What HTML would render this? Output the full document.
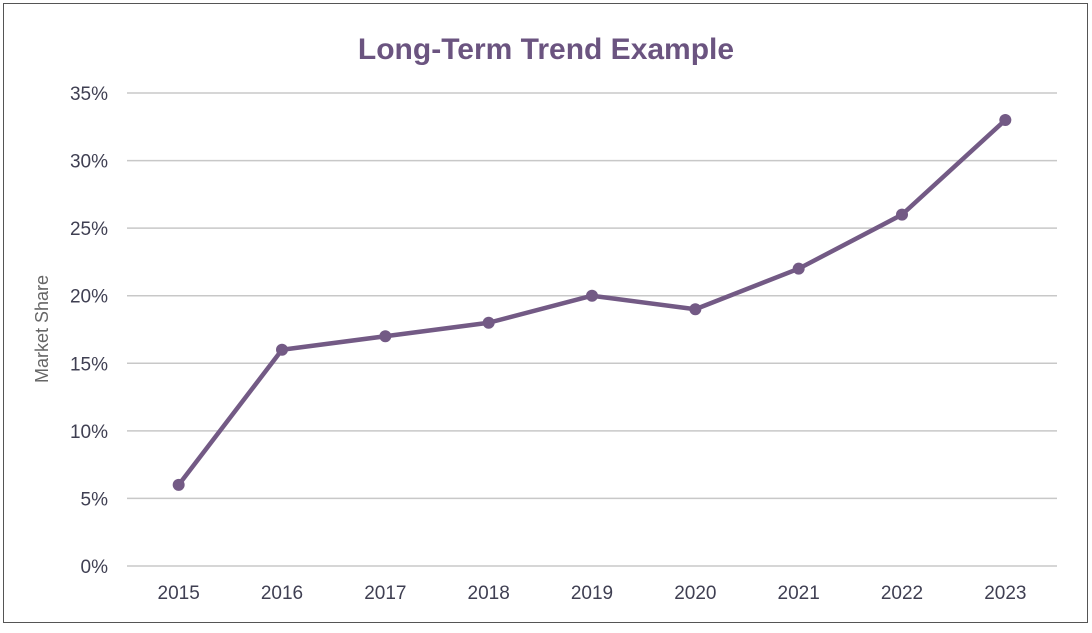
<!DOCTYPE html>
<html><head><meta charset="utf-8"><style>
html,body{margin:0;padding:0;background:#fff;}
body{width:1092px;height:628px;overflow:hidden;font-family:"Liberation Sans",sans-serif;}
</style></head><body>
<svg id="chart" width="1092" height="628" xmlns="http://www.w3.org/2000/svg">
<rect x="3.5" y="3.5" width="1084" height="619" fill="#fff" stroke="#555" stroke-width="1"/>
<text x="546" y="59" text-anchor="middle" font-size="30" font-weight="bold" fill="#6b5480">Long-Term Trend Example</text>
<text transform="translate(48,329) rotate(-90)" text-anchor="middle" font-size="18" fill="#666">Market Share</text>
<g id="grid"></g><g id="xlabels"></g><g id="series"></g>
</svg>
<script>
const categories=["2015","2016","2017","2018","2019","2020","2021","2022","2023"];
const shareValues=[6,16,17,18,20,19,22,26,33];
const yTicks=[0,5,10,15,20,25,30,35];
const ns="http://www.w3.org/2000/svg";
const x0=127,x1=1057,yTop=93,yBot=566,yMax=35;
const band=(x1-x0)/categories.length;
function xs(i){return x0+band*(i+0.5);}
function ys(v){return yBot-(v/yMax)*(yBot-yTop);}
function mk(t,a,p){const e=document.createElementNS(ns,t);for(const k in a)e.setAttribute(k,a[k]);p.appendChild(e);return e;}
const grid=document.getElementById('grid');
yTicks.forEach(v=>{
 const l=mk('line',{x1:x0,x2:x1,y1:ys(v),y2:ys(v),stroke:'#c8c8c8','stroke-width':1.5},grid);
 
 
 const t=mk('text',{x:108,y:ys(v)+7,'text-anchor':'end','font-size':19,fill:'#3f3f52'},grid);
 t.textContent=v+'%';
 
 
});
const xl=document.getElementById('xlabels');
categories.forEach((c,i)=>{
 const t=mk('text',{x:xs(i),y:599,'text-anchor':'middle','font-size':19,fill:'#3f3f52'},xl);
 t.textContent=c;
 
 
});
const s=document.getElementById('series');
const pl=mk('polyline',{points:shareValues.map((v,i)=>xs(i)+','+ys(v)).join(' '),fill:'none',stroke:'#735a85','stroke-width':4.5,'stroke-linejoin':'round'},s);


shareValues.forEach((v,i)=>{
 const c=mk('circle',{cx:xs(i),cy:ys(v),r:6,fill:'#735a85'},s);
 
 
});
</script>
</body></html>
